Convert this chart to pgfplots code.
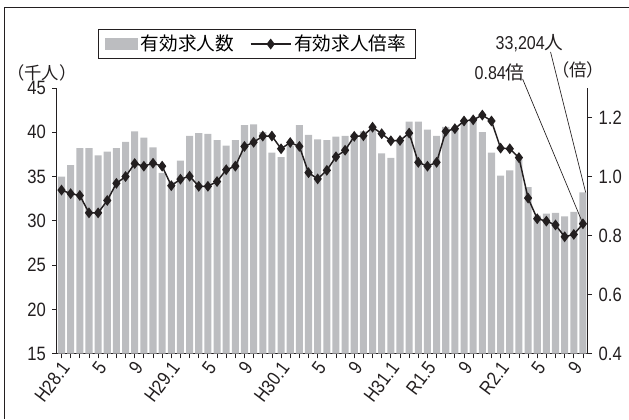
\documentclass[border=0pt]{standalone}
\usepackage{fontspec}
\setmainfont{Liberation Sans}[FakeStretch=0.86]
\newfontfamily\jp{Noto Sans CJK JP}
\usepackage{pgfplots}
\usepackage{pgfplotstable}
\pgfplotsset{compat=1.18}
\definecolor{barc}{HTML}{BCBDC0}
\definecolor{ink}{HTML}{231F20}
\pgfplotsset{
  linelegend/.style={legend image code/.code={\draw[##1, mark repeat=2, mark phase=2] plot coordinates {(0pt,0pt) (15pt,0pt) (30pt,0pt)};}},
  barlegend/.style={legend image code/.code={\fill[barc] (0pt,-3.8pt) rectangle (24pt,3.8pt);}},
}

\pgfplotstableread{
x y
0 35.0
1 36.3
2 38.2
3 38.2
4 37.4
5 37.8
6 38.2
7 38.9
8 40.1
9 39.4
10 38.3
11 35.4
12 34.4
13 36.8
14 39.6
15 39.9
16 39.8
17 39.1
18 38.5
19 39.1
20 40.8
21 40.9
22 40.0
23 37.7
24 37.2
25 38.5
26 40.8
27 39.7
28 39.2
29 39.1
30 39.5
31 39.6
32 39.8
33 40.1
34 40.4
35 37.6
36 37.1
37 39.1
38 41.2
39 41.2
40 40.3
41 39.6
42 40.6
43 40.5
44 41.4
45 41.4
46 40.0
47 37.7
48 35.1
49 35.7
50 36.9
51 33.8
52 30.6
53 30.8
54 30.9
55 30.5
56 31.0
57 33.2
}\bars

\pgfplotstableread{
x y
0 0.954
1 0.942
2 0.936
3 0.877
4 0.877
5 0.919
6 0.977
7 1.000
8 1.044
9 1.035
10 1.045
11 1.035
12 0.969
13 0.991
14 1.001
15 0.967
16 0.967
17 0.983
18 1.023
19 1.035
20 1.102
21 1.116
22 1.137
23 1.137
24 1.094
25 1.115
26 1.102
27 1.013
28 0.992
29 1.021
30 1.067
31 1.089
32 1.136
33 1.138
34 1.167
35 1.145
36 1.121
37 1.122
38 1.147
39 1.048
40 1.035
41 1.048
42 1.153
43 1.162
44 1.188
45 1.192
46 1.208
47 1.188
48 1.096
49 1.094
50 1.064
51 0.927
52 0.857
53 0.849
54 0.836
55 0.796
56 0.804
57 0.840
}\ratio

\begin{document}
\begin{tikzpicture}
\fontsize{14}{16}\selectfont
\path (0,0) rectangle (471.75pt,314.25pt);
\draw[ink, line width=0.75pt] (3.75pt,0pt) -- (3.75pt,308.25pt) -- (471.75pt,308.25pt);

\begin{axis}[
  at={(42.75pt,48.75pt)}, anchor=south west,
  scale only axis, width=398.25pt, height=199.5pt,
  xmin=-0.5, xmax=57.5, ymin=15, ymax=45,
  axis x line*=bottom, axis y line*=left,
  axis line style={ink, line width=0.75pt},
  tick align=outside, major tick length=3.5pt, minor tick length=3.5pt,
  tick style={ink, line width=0.6pt},
  xtick={0,4,...,56},
  minor xtick={0,...,57},
  xticklabels={H28.1,5,9,H29.1,5,9,H30.1,5,9,H31.1,R1.5,9,R2.1,5,9},
  xticklabel style={xshift=4pt, yshift=-3pt, rotate=53, anchor=east, inner sep=1.5pt},
  ytick={15,20,25,30,35,40,45},
  tick label style={font=\fontsize{14.5}{16}\selectfont, text=ink},
  /pgf/number format/assume math mode=true,
  ybar, bar width=5.3pt, bar shift=0pt,
]
\addplot[fill=barc, draw=none] table[x=x,y=y] {\bars};
\coordinate (bartop) at (axis cs:57.3,33.2);
\end{axis}

\begin{axis}[
  at={(42.75pt,48.75pt)}, anchor=south west,
  scale only axis, width=398.25pt, height=199.5pt,
  xmin=-0.5, xmax=57.5, ymin=0.4, ymax=1.3,
  axis x line=none, axis y line*=right,
  axis line style={ink, line width=0.75pt},
  tick align=outside, major tick length=3.5pt,
  tick style={ink, line width=0.6pt},
  ytick={0.4,0.6,0.8,1.0,1.2},
  yticklabel style={/pgf/number format/.cd, fixed, fixed zerofill, precision=1},
  tick label style={font=\fontsize{14.5}{16}\selectfont, text=ink},
  /pgf/number format/assume math mode=true,
  clip=false,
  legend columns=2,
  legend style={at={(0.0772,1.2218)}, anchor=north west, draw=ink, line width=0.75pt,
    font=\fontsize{14}{16}\selectfont, inner xsep=5pt, inner ysep=2pt,
    /tikz/every even column/.append style={column sep=10pt}},
]
\addlegendimage{barlegend}
\addlegendentry{\jp 有効求人数}
\addplot[ink, line width=1.1pt, mark=diamond*, mark size=3.2pt,
  mark options={solid, fill=ink}, linelegend]
  table[x=x,y=y] {\ratio};
\addlegendentry{\jp 有効求人倍率}
\coordinate (ratiopt) at (axis cs:57,0.84);
\end{axis}

\node[text=ink, font=\fontsize{13}{15}\selectfont] at (31.5pt,259.5pt) {\jp （千人）};
\node[text=ink, font=\fontsize{13}{15}\selectfont] at (434pt,261.75pt) {\jp （倍）};
\node[text=ink] at (397.5pt,282pt) {33,204{\jp 人}};
\node[text=ink] at (375pt,260.25pt) {0.84{\jp 倍}};
\draw[ink, line width=0.5pt] (413.25pt,275.25pt) -- (bartop);
\draw[ink, line width=0.5pt] (392.25pt,255pt) -- (ratiopt);
\end{tikzpicture}
\end{document}
